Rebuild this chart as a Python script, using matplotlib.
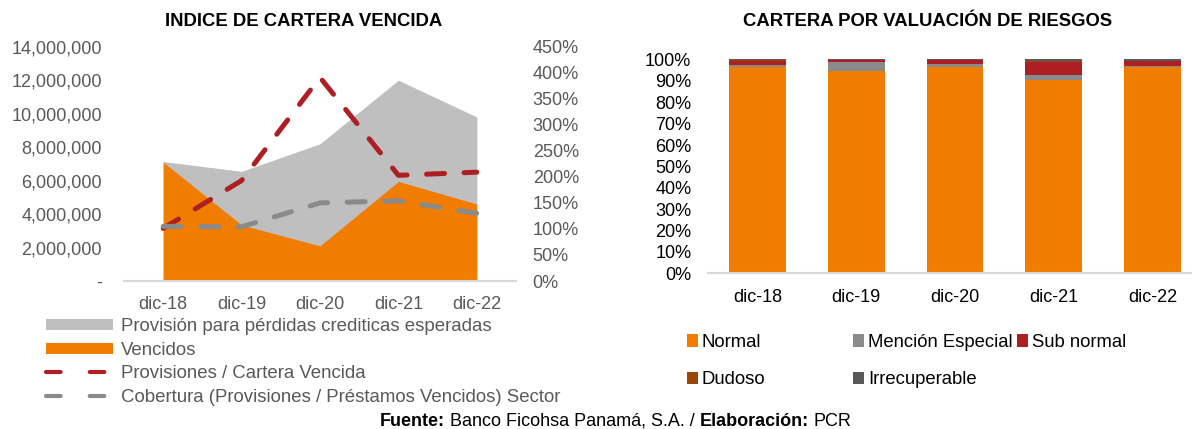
import matplotlib
matplotlib.use('Agg')
import matplotlib.pyplot as plt
import numpy as np
from matplotlib.patches import Patch
from matplotlib.lines import Line2D
from matplotlib.ticker import FuncFormatter
from matplotlib.offsetbox import TextArea, HPacker, AnchoredOffsetbox

plt.rcParams['font.family'] = ['Liberation Sans', 'DejaVu Sans']

periods = ['dic-18', 'dic-19', 'dic-20', 'dic-21', 'dic-22']

# Indice de cartera vencida
provision = [7.14e6, 6.55e6, 8.2e6, 12.0e6, 9.8e6]
vencidos = [7.1e6, 3.35e6, 2.1e6, 5.95e6, 4.6e6]
prov_cartera = [1.01, 1.93, 3.91, 2.03, 2.09]
cobertura_sector = [1.05, 1.04, 1.50, 1.54, 1.30]

# Cartera por valuacion de riesgos (shares)
normal = [0.965, 0.948, 0.966, 0.903, 0.966]
mencion = [0.011, 0.039, 0.015, 0.023, 0.004]
sub_normal = [0.019, 0.009, 0.017, 0.064, 0.025]
dudoso = [0.001, 0.003, 0.000, 0.003, 0.000]
irrecuperable = [0.004, 0.001, 0.002, 0.007, 0.005]

ORANGE = '#F07D00'
LGRAY = '#BFBFBF'
RED = '#AE1F23'
MGRAY = '#8A8A8A'
BROWN = '#974806'
DGRAY = '#595959'
AXIS = '#D9D9D9'
TXT = '#595959'

W, H = 1192, 429


def px_box(x0, y0, x1, y1):
    return [x0 / W, 1 - y1 / H, (x1 - x0) / W, (y1 - y0) / H]


fig = plt.figure(figsize=(W / 100, H / 100), dpi=100)
x = np.arange(len(periods))

# ---- left chart
ax = fig.add_axes(px_box(124, 46.7, 516, 281))
ax.fill_between(x, provision, color=LGRAY, lw=0)
ax.fill_between(x, vencidos, color=ORANGE, lw=0)
ax.set_xlim(-0.5, 4.5)
ax.set_ylim(0, 14e6)
ax.set_yticks(np.arange(0, 14e6 + 1, 2e6))
ax.yaxis.set_major_formatter(FuncFormatter(lambda v, p: '-' if v == 0 else f'{v:,.0f}'))
ax.set_xticks(x, periods)
for s in ['top', 'right', 'left']:
    ax.spines[s].set_visible(False)
ax.spines['bottom'].set_color(AXIS)
ax.spines['bottom'].set_linewidth(1.5)
ax.tick_params(length=0, labelsize=13, labelcolor=TXT)
ax.tick_params(axis='y', pad=16)
ax.tick_params(axis='x', pad=10.5)

ax2 = ax.twinx()
ax2.plot(x, prov_cartera, color=RED, lw=3.6, dashes=(3.6, 3.9), dash_capstyle='round')
ax2.plot(x, cobertura_sector, color=MGRAY, lw=3.6, dashes=(3.6, 3.9), dash_capstyle='round')
ax2.set_ylim(0, 4.5)
ax2.set_yticks(np.arange(0, 4.51, 0.5))
ax2.yaxis.set_major_formatter(FuncFormatter(lambda v, p: f'{v * 100:.0f}%'))
for s in ax2.spines.values():
    s.set_visible(False)
ax2.tick_params(axis='y', length=0, pad=12, labelsize=13, labelcolor=TXT)

fig.text(304 / W, 1 - 26 / H, 'INDICE DE CARTERA VENCIDA', ha='center', va='baseline',
         fontsize=13.3, fontweight='bold')

left_handles = [
    Patch(color=LGRAY, lw=0),
    Patch(color=ORANGE, lw=0),
    Line2D([], [], color=RED, lw=3, dashes=(3.5, 7), dash_capstyle='round'),
    Line2D([], [], color=MGRAY, lw=3, dashes=(3.5, 7), dash_capstyle='round'),
]
left_labels = ['Provisión para pérdidas crediticas esperadas', 'Vencidos',
               'Provisiones / Cartera Vencida',
               'Cobertura (Provisiones / Préstamos Vencidos) Sector']
leg = fig.legend(left_handles, left_labels, loc='upper left',
                 bbox_to_anchor=(45.7 / W, 1 - 318 / H), frameon=False,
                 fontsize=13.4, labelcolor=TXT, handlelength=3.6, handleheight=0.55,
                 handletextpad=0.46, labelspacing=0.36, borderpad=0, borderaxespad=0)

# ---- right chart
bx = fig.add_axes(px_box(708, 59.5, 1202, 273.3))
series = [(normal, ORANGE, 'Normal'), (mencion, MGRAY, 'Mención Especial'),
          (sub_normal, RED, 'Sub normal'), (dudoso, BROWN, 'Dudoso'),
          (irrecuperable, DGRAY, 'Irrecuperable')]
bottom = np.zeros(len(periods))
for vals, color, label in series:
    bx.bar(x, vals, 0.574, bottom=bottom, color=color, lw=0)
    bottom += np.array(vals)
bx.set_xlim(-0.5, 4.5)
bx.set_ylim(0, 1)
bx.set_yticks(np.arange(0, 1.001, 0.1))
bx.yaxis.set_major_formatter(FuncFormatter(lambda v, p: f'{v * 100:.0f}%'))
bx.set_xticks(x, periods)
for s in ['top', 'right', 'left']:
    bx.spines[s].set_visible(False)
bx.spines['bottom'].set_color(AXIS)
bx.spines['bottom'].set_linewidth(1.5)
bx.tick_params(length=0, labelsize=13, labelcolor='black')
bx.tick_params(axis='y', pad=12)
bx.tick_params(axis='x', pad=11.5)

fig.text(928 / W, 1 - 26 / H, 'CARTERA POR VALUACIÓN DE RIESGOS', ha='center',
         va='baseline', fontsize=13.3, fontweight='bold')

legend_spots = [(687, 342.5), (853, 342.5), (1017, 342.5), (687, 380), (853, 380)]
for (vals, color, label), (lx, ly) in zip(series, legend_spots):
    fig.legend([Patch(color=color, lw=0)], [label], loc='center left',
               bbox_to_anchor=(lx / W, 1 - ly / H), frameon=False, fontsize=13.3,
               labelcolor='black', handlelength=0.61, handleheight=0.65,
               handletextpad=0.2, borderpad=0, borderaxespad=0)

# ---- source line
parts = [TextArea('Fuente:', textprops=dict(fontsize=13, fontweight='bold')),
         TextArea('Banco Ficohsa Panamá, S.A. /', textprops=dict(fontsize=13)),
         TextArea('Elaboración:', textprops=dict(fontsize=13, fontweight='bold')),
         TextArea('PCR', textprops=dict(fontsize=13))]
box = HPacker(children=parts, align='baseline', pad=0, sep=3.6)
anchored = AnchoredOffsetbox(loc='center', child=box, pad=0, borderpad=0, frameon=False,
                             bbox_to_anchor=(615.8 / W, 1 - 421.5 / H),
                             bbox_transform=fig.transFigure)
fig.add_artist(anchored)

fig.savefig('out.png', dpi=100)
